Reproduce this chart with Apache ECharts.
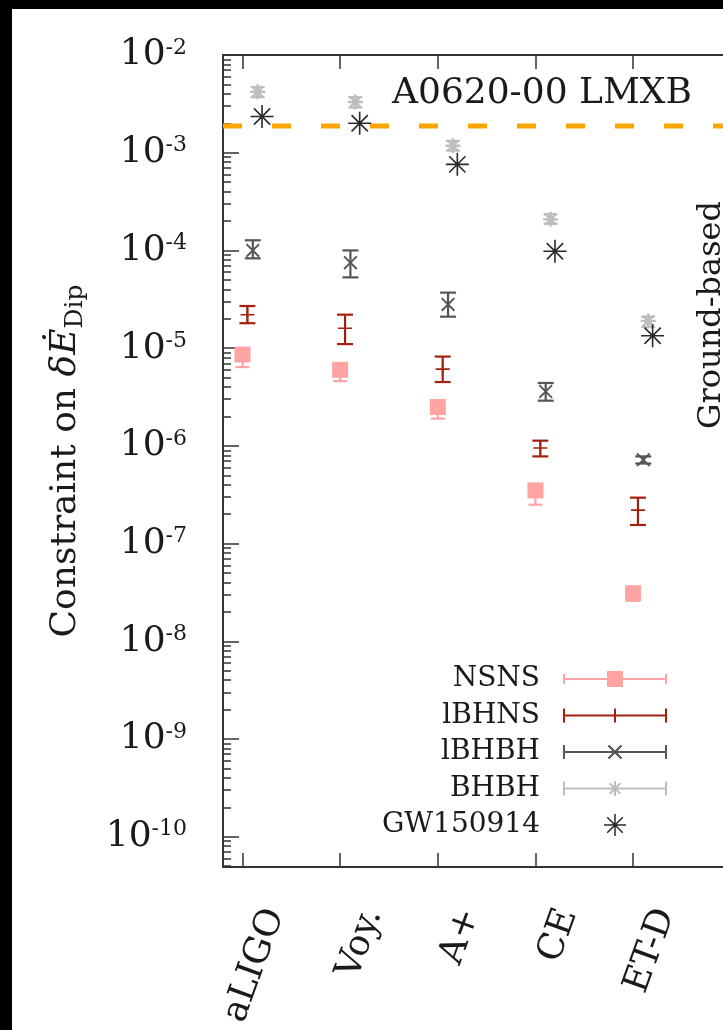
<!DOCTYPE html>
<html>
<head>
<meta charset="utf-8">
<script src="https://cdn.jsdelivr.net/npm/echarts@6/dist/echarts.min.js"></script>
<style>
html, body { margin: 0; padding: 0; background: #fff; }
#chart { position: absolute; left: 0; top: 0; width: 723px; height: 1030px; background: #fff; }
.band { position: absolute; background: #000; }
</style>
</head>
<body>
<div id="chart"></div>
<div class="band" style="left:0;top:0;width:723px;height:9px"></div>
<div class="band" style="left:0;top:0;width:12px;height:1030px"></div>
<script>
// detectors (x categories)
var detectors = ['aLIGO', 'Voy.', 'A+', 'CE', 'ET-D'];

// constraint values, with error bar ends
var nsnsVal = [8.6e-6, 6.0e-6, 2.5e-6, 3.5e-7, 3.1e-8];
var nsnsLow = [6.4e-6, 4.6e-6, 1.9e-6, 2.5e-7, 2.6e-8];
var nsnsHigh = [1.0e-5, 7.0e-6, 2.9e-6, 4.0e-7, 3.6e-8];

var lbhnsVal = [2.2e-5, 1.6e-5, 6.1e-6, 9.5e-7, 2.2e-7];
var lbhnsLow = [1.8e-5, 1.1e-5, 4.5e-6, 7.8e-7, 1.55e-7];
var lbhnsHigh = [2.7e-5, 2.2e-5, 8.2e-6, 1.13e-6, 2.95e-7];

var lbhbhVal = [1.0e-4, 7.5e-5, 2.8e-5, 3.6e-6, 7.2e-7];
var lbhbhLow = [8.3e-5, 5.3e-5, 2.1e-5, 2.9e-6, 6.6e-7];
var lbhbhHigh = [1.27e-4, 1.0e-4, 3.7e-5, 4.4e-6, 7.8e-7];

var bhbhVal = [4.2e-3, 3.3e-3, 1.18e-3, 2.08e-4, 1.9e-5];
var bhbhLow = [3.7e-3, 2.9e-3, 1.05e-3, 1.87e-4, 1.65e-5];
var bhbhHigh = [4.7e-3, 3.7e-3, 1.32e-3, 2.35e-4, 2.1e-5];

var gwVal = [2.35e-3, 2.0e-3, 7.6e-4, 9.8e-5, 1.34e-5];

var lmxbLimit = 1.88e-3;

var xMin = 0.8, xMax = 8;
var FONT = '"DejaVu Serif", serif';

// filled path helpers for markers / legend icons
function strip(x1, y1, x2, y2, w) {
    var dx = x2 - x1, dy = y2 - y1, len = Math.sqrt(dx * dx + dy * dy);
    var px = dy / len * w / 2, py = -dx / len * w / 2;
    function p(x, y) { return x.toFixed(2) + ',' + y.toFixed(2); }
    return 'M' + p(x1 + px, y1 + py) + 'L' + p(x2 + px, y2 + py) + 'L' + p(x2 - px, y2 - py) + 'L' + p(x1 - px, y1 - py) + 'Z';
}
function box(x, y, w, h) { return 'M' + x + ',' + y + 'H' + (x + w) + 'V' + (y + h) + 'H' + x + 'Z'; }
function plus(cx, cy, r, w) { return strip(cx, cy - r, cx, cy + r, w) + strip(cx - r, cy, cx + r, cy, w); }
function cross(cx, cy, r, w) { return strip(cx - r, cy - r, cx + r, cy + r, w) + strip(cx + r, cy - r, cx - r, cy + r, w); }
function star(cx, cy, r, w) {
    var d = r * 0.7071;
    return plus(cx, cy, r, w) + strip(cx - d, cy - d, cx + d, cy + d, w) + strip(cx + d, cy - d, cx - d, cy + d, w);
}
// legend sample: horizontal error bar with end caps, box 104 x 24
var corners = box(0, 0, 0.01, 0.01) + box(103.99, 23.99, 0.01, 0.01);
function errSample(capH) { return box(0, 11, 104, 2) + box(0, 12 - capH / 2, 2, capH) + box(102, 12 - capH / 2, 2, capH); }

var cols = {
    nsns: '#ffa3a3',
    lbhns: '#a3200e',
    lbhbh: '#555555',
    bhbh: '#bdbdbd',
    gw: '#2a2a2a'
};

function pts(vals, off) {
    return vals.map(function (v, i) { return [i + 1 + off, v]; });
}
function bars(lo, hi, off) {
    return lo.map(function (v, i) { return [i + 1 + off, v, hi[i]]; });
}

function errorBars(name, lo, hi, off, color, cap) {
    return {
        name: name,
        type: 'custom',
        silent: true,
        z: 1,
        renderItem: function (params, api) {
            var x = api.value(0);
            var a = api.coord([x, api.value(1)]);
            var b = api.coord([x, api.value(2)]);
            var st = { stroke: color, lineWidth: 2.2, fill: null };
            return {
                type: 'group',
                children: [
                    { type: 'line', shape: { x1: a[0], y1: a[1], x2: b[0], y2: b[1] }, style: st },
                    { type: 'line', shape: { x1: a[0] - cap, y1: a[1], x2: a[0] + cap, y2: a[1] }, style: st },
                    { type: 'line', shape: { x1: b[0] - cap, y1: b[1], x2: b[0] + cap, y2: b[1] }, style: st }
                ]
            };
        },
        encode: { x: 0, y: [1, 2] },
        data: bars(lo, hi, off)
    };
}

var minorTicks = [];
for (var k = -11; k <= -3; k++) {
    for (var m = 2; m <= 9; m++) minorTicks.push(m * Math.pow(10, k));
}

var myChart = echarts.init(document.getElementById('chart'));

var option = {
    animation: false,
    backgroundColor: '#fff',
    grid: { left: 223, top: 55, bottom: 163, width: 703, containLabel: false, outerBoundsMode: 'none' },
    xAxis: [{
        type: 'value',
        position: 'bottom',
        min: xMin,
        max: xMax,
        axisLine: { onZero: false, lineStyle: { color: '#333', width: 2 } },
        axisTick: { inside: true, length: 14, customValues: [1, 2, 3, 4, 5, 6, 7], lineStyle: { color: '#333', width: 1.5 } },
        axisLabel: {
            customValues: [1.33, 2.33, 3.33, 4.33, 5.33],
            formatter: function (v) { return detectors[Math.round(v - 0.33) - 1] || ''; },
            rotate: 70,
            margin: 43,
            fontFamily: FONT,
            fontSize: 36,
            color: '#1a1a1a'
        },
        splitLine: { show: false }
    }, {
        type: 'value',
        position: 'top',
        min: xMin,
        max: xMax,
        axisLine: { onZero: false, lineStyle: { color: '#333', width: 2 } },
        axisTick: { inside: true, length: 14, customValues: [1, 2, 3, 4, 5, 6, 7], lineStyle: { color: '#333', width: 1.5 } },
        axisLabel: { show: false },
        splitLine: { show: false }
    }],
    yAxis: [{
        type: 'log',
        logBase: 10,
        position: 'left',
        min: 4.9e-11,
        max: 1e-2,
        axisLine: { show: true, lineStyle: { color: '#333', width: 2 } },
        axisTick: { inside: true, length: 16, lineStyle: { color: '#333', width: 1.5 } },
        axisLabel: {
            margin: 36,
            formatter: function (v) {
                var l = Math.log10(v), e = Math.round(l);
                if (Math.abs(l - e) > 1e-6) return '';
                return '{b|10}{s|' + e + '}';
            },
            rich: {
                b: { fontFamily: FONT, fontSize: 36, color: '#1a1a1a' },
                s: { fontFamily: FONT, fontSize: 22, color: '#1a1a1a', verticalAlign: 'top' }
            }
        },
        splitLine: { show: false },
        name: '{a|Constraint on }{b|δĖ}{c|Dip}',
        nameLocation: 'middle',
        nameRotate: 90,
        nameGap: 135,
        nameTextStyle: {
            rich: {
                a: { fontFamily: FONT, fontSize: 36, color: '#1a1a1a' },
                b: { fontFamily: FONT, fontSize: 36, fontStyle: 'italic', color: '#1a1a1a' },
                c: { fontFamily: FONT, fontSize: 25, color: '#1a1a1a', verticalAlign: 'bottom', padding: [20, 0, 0, 0] }
            }
        }
    }, {
        type: 'log',
        logBase: 10,
        position: 'left',
        min: 4.9e-11,
        max: 1e-2,
        axisLine: { show: false },
        axisTick: { inside: true, length: 8, customValues: minorTicks, lineStyle: { color: '#333', width: 1.5 } },
        axisLabel: { show: false },
        splitLine: { show: false }
    }],
    legend: {
        orient: 'vertical',
        right: 56,
        top: 665,
        padding: 0,
        align: 'right',
        itemWidth: 104,
        itemHeight: 24,
        itemGap: 8.5,
        selectedMode: false,
        textStyle: { fontFamily: FONT, fontSize: 28, color: '#1a1a1a', padding: [0, 18, 0, 0] },
        data: [
            { name: 'NSNS', icon: 'path://' + corners + errSample(10) + box(44, 4, 16, 16) },
            { name: 'lBHNS', icon: 'path://' + corners + errSample(14) + box(51, 5, 2, 14) },
            { name: 'lBHBH', icon: 'path://' + corners + errSample(14) + cross(52, 12, 6.5, 2.2) },
            { name: 'BHBH', icon: 'path://' + corners + errSample(14) + star(52, 12, 7.5, 2) },
            { name: 'GW150914', icon: 'path://' + corners + star(52, 12, 11, 1.5) }
        ]
    },
    graphic: [{
        type: 'text',
        left: 392,
        top: 76,
        style: { text: 'A0620-00 LMXB', font: '36px "DejaVu Serif"', fill: '#1a1a1a' }
    }, {
        type: 'text',
        x: 712,
        y: 315,
        rotation: Math.PI / 2,
        style: { text: 'Ground-based', font: '32px "DejaVu Serif"', fill: '#1a1a1a', align: 'center', verticalAlign: 'middle' }
    }],
    series: [
        {
            name: 'A0620-00 LMXB', type: 'line', silent: true, symbol: 'none', z: 1,
            lineStyle: { color: '#ffa500', width: 5, type: [19, 30], cap: 'butt' },
            data: [[xMin, lmxbLimit], [xMax, lmxbLimit]]
        },
        errorBars('NSNS err', nsnsLow, nsnsHigh, 0, cols.nsns, 7),
        errorBars('lBHNS err', lbhnsLow, lbhnsHigh, 0.05, cols.lbhns, 8),
        errorBars('lBHBH err', lbhbhLow, lbhbhHigh, 0.105, cols.lbhbh, 8),
        errorBars('BHBH err', bhbhLow, bhbhHigh, 0.155, cols.bhbh, 7),
        {
            name: 'NSNS', type: 'scatter', symbol: 'rect', symbolSize: 16,
            itemStyle: { color: cols.nsns, opacity: 1 }, data: pts(nsnsVal, 0)
        },
        {
            name: 'lBHNS', type: 'scatter', symbol: 'path://' + plus(10, 10, 10, 2.2), symbolSize: 14,
            itemStyle: { color: cols.lbhns, opacity: 1 }, data: pts(lbhnsVal, 0.05)
        },
        {
            name: 'lBHBH', type: 'scatter', symbol: 'path://' + cross(10, 10, 10, 3), symbolSize: 14,
            itemStyle: { color: cols.lbhbh, opacity: 1 }, data: pts(lbhbhVal, 0.105)
        },
        {
            name: 'BHBH', type: 'scatter', symbol: 'path://' + star(10, 10, 10, 3.2), symbolSize: 15,
            itemStyle: { color: cols.bhbh, opacity: 1 }, data: pts(bhbhVal, 0.155)
        },
        {
            name: 'GW150914', type: 'scatter', symbol: 'path://' + star(10, 10, 10, 1.4), symbolSize: 23,
            itemStyle: { color: cols.gw, opacity: 1 }, data: pts(gwVal, 0.2)
        }
    ]
};

myChart.setOption(option);
</script>
</body>
</html>
